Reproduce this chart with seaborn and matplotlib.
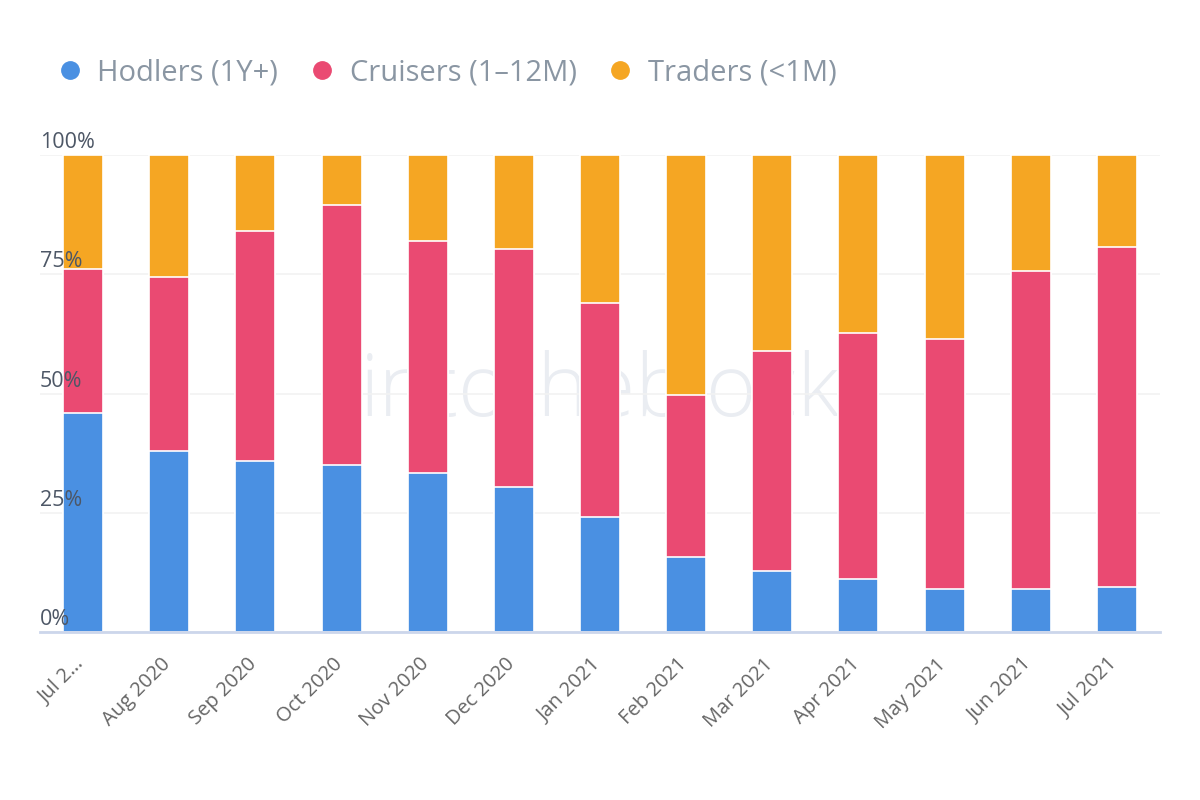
import matplotlib
matplotlib.use("Agg")
import matplotlib.pyplot as plt
from matplotlib.lines import Line2D
from matplotlib.transforms import ScaledTranslation
import pandas as pd
import seaborn as sns

# ─── Data (share of holders by holding time, %) ───────────────────────────────
MONTHS = ["Jul 2…", "Aug 2020", "Sep 2020", "Oct 2020", "Nov 2020", "Dec 2020",
          "Jan 2021", "Feb 2021", "Mar 2021", "Apr 2021", "May 2021",
          "Jun 2021", "Jul 2021"]
HODLERS  = [45.9, 37.9, 35.8, 35.0, 33.3, 30.4, 24.1, 15.7, 12.8, 11.1, 9.0, 9.0, 9.4]
CRUISERS = [30.2, 36.5, 48.3, 54.5, 48.7, 49.9, 44.9, 34.0, 46.1, 51.6, 52.4, 66.7, 71.3]
TRADERS  = [23.9, 25.6, 15.9, 10.5, 18.0, 19.7, 31.0, 50.3, 41.1, 37.3, 38.6, 24.3, 19.3]

SERIES = ["Hodlers (1Y+)", "Cruisers (1–12M)", "Traders (<1M)"]
COLORS = ["#4a90e2", "#ea4a72", "#f5a623"]

sns.set_theme(style="white")
plt.rcParams["font.family"] = ["Open Sans", "DejaVu Sans"]

df = pd.DataFrame({"month": MONTHS, "hodlers": HODLERS,
                   "cruisers": CRUISERS, "traders": TRADERS})
df["lvl1"] = df["hodlers"]
df["lvl2"] = df["hodlers"] + df["cruisers"]
df["lvl3"] = df["lvl2"] + df["traders"]

fig = plt.figure(figsize=(12, 8), dpi=100)
ax = fig.add_axes([40 / 1200, 1 - 632 / 800, 1120 / 1200, 477 / 800])

# faint watermark
ax.text(0.5, 0.5, "intotheblock", transform=ax.transAxes, ha="center",
        va="center", fontsize=62, color="#eaedf2", zorder=0,
        fontweight="light")

# stacked bars: draw cumulative totals from the top layer down
for col, color in zip(["lvl3", "lvl2", "lvl1"], COLORS[::-1]):
    sns.barplot(data=df, x="month", y=col, color=color, width=0.465,
                saturation=1, edgecolor="white", linewidth=1.2,
                ax=ax, zorder=2)

ax.set_xlim(-0.5, len(MONTHS) - 0.5)
ax.set_ylim(0, 100)
ax.set_xlabel("")
ax.set_ylabel("")

yticks = [0, 25, 50, 75, 100]
ax.set_yticks(yticks)
ax.set_yticklabels([])
ax.tick_params(axis="y", length=0)
ax.yaxis.grid(True, color="#f2f2f2", linewidth=1.2)
ax.set_axisbelow(True)
for t in yticks:
    ax.text(0.0, t + 0.4, f"{t}%", transform=ax.get_yaxis_transform(),
            ha="left", va="bottom", fontsize=15.5, color="#4d5766", zorder=5)

ax.set_xticks(range(len(MONTHS)))
ax.set_xticklabels(MONTHS, rotation=45, ha="right", rotation_mode="anchor",
                   fontsize=14.5, color="#666666")
ax.tick_params(axis="x", length=0, pad=16)
shift = ScaledTranslation(-9 / 100, 0, fig.dpi_scale_trans)
for lab in ax.get_xticklabels():
    lab.set_transform(lab.get_transform() + shift)

for side in ["top", "right", "left"]:
    ax.spines[side].set_visible(False)
ax.spines["bottom"].set_color("#ccd6eb")
ax.spines["bottom"].set_linewidth(2)

handles = [Line2D([0], [0], marker="o", linestyle="", markersize=12.5,
                  markerfacecolor=c, markeredgecolor=c) for c in COLORS]
fig.legend(handles, SERIES, loc="upper left", bbox_to_anchor=(0.024, 0.96),
           ncol=3, frameon=False, fontsize=21, labelcolor="#8a96a3",
           handletextpad=0.45, columnspacing=1.0, handlelength=1.0)

fig.savefig("out.png", dpi=100)
plt.close(fig)
